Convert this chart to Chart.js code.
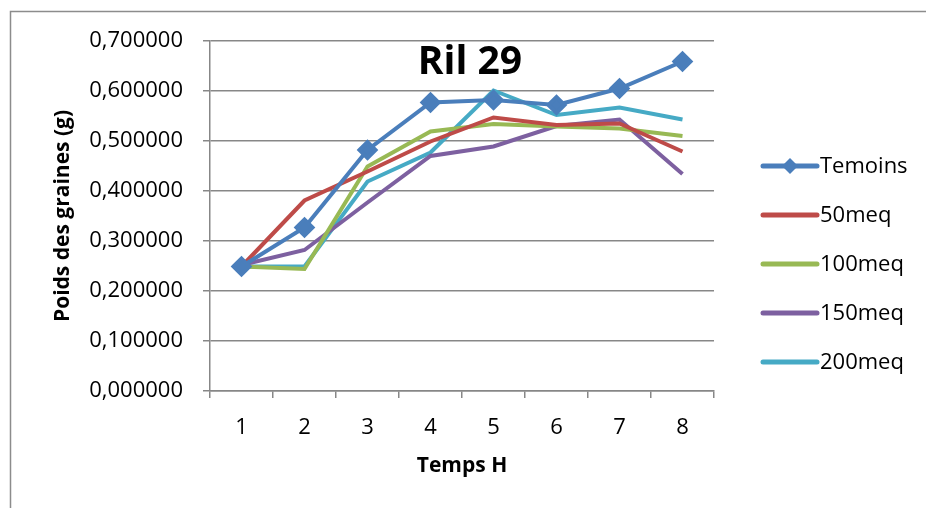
<!DOCTYPE html>
<html>
<head>
<meta charset="utf-8">
<script src="https://cdn.jsdelivr.net/npm/chart.js@4/dist/chart.umd.min.js"></script>
<style>
  html, body { margin: 0; padding: 0; background: #fff; }
  #wrap { width: 926px; height: 508px; }
</style>
</head>
<body>
<div id="wrap"><canvas id="chart" width="926" height="508"></canvas></div>
<script>
// data
const hours = ['1', '2', '3', '4', '5', '6', '7', '8'];
const temoins = [0.249, 0.327, 0.482, 0.577, 0.582, 0.572, 0.605, 0.659];
const meq50 = [0.249, 0.381, 0.439, 0.499, 0.547, 0.532, 0.535, 0.479];
const meq100 = [0.249, 0.244, 0.449, 0.519, 0.534, 0.529, 0.525, 0.510];
const meq150 = [0.252, 0.282, 0.377, 0.470, 0.489, 0.530, 0.543, 0.434];
const meq200 = [0.249, 0.249, 0.419, 0.477, 0.601, 0.552, 0.567, 0.543];
const seriesNames = ['Temoins', '50meq', '100meq', '150meq', '200meq'];
const seriesColors = ['#4A7EBB', '#BE4B48', '#98B954', '#7D60A0', '#46AAC5'];

const FONT = "'Open Sans', sans-serif";
const gridGray = '#878787';

const mkSet = (i, data) => ({
	label: seriesNames[i],
	data: data,
	borderColor: seriesColors[i],
	backgroundColor: seriesColors[i],
	borderWidth: 4,
	pointRadius: i === 0 ? 8 : 0,
	pointHoverRadius: i === 0 ? 8 : 0,
	pointStyle: 'rectRot',
	tension: 0,
	order: i === 0 ? 0 : 1,
});

// frame, title and legend are drawn by hand
const extras = {
	id: 'extras',
	beforeDraw(chart) {
		const c = chart.ctx;
		c.save();
		c.fillStyle = '#fff';
		c.fillRect(0, 0, chart.width, chart.height);
		c.strokeStyle = '#8c8c8c';
		c.lineWidth = 1.5;
		c.strokeRect(10.5, 11.5, chart.width + 20, chart.height + 20);
		c.restore();
	},
	afterDraw(chart) {
		const c = chart.ctx;
		const a = chart.chartArea;
		c.save();
		c.fillStyle = '#000';
		c.font = "bold 39px " + FONT;
		c.textAlign = 'center';
		c.textBaseline = 'middle';
		c.fillText('Ril 29', 470, 63);

		c.font = "22px " + FONT;
		c.textAlign = 'left';
		seriesNames.forEach((name, i) => {
			const y = 166 + i * 49;
			const x0 = a.right + 49;
			c.strokeStyle = seriesColors[i];
			c.lineWidth = 5;
			c.lineCap = 'round';
			c.beginPath();
			c.moveTo(x0, y);
			c.lineTo(x0 + 54, y);
			c.stroke();
			if (i === 0) {
				c.fillStyle = seriesColors[i];
				c.beginPath();
				c.moveTo(x0 + 27, y - 8);
				c.lineTo(x0 + 35, y);
				c.lineTo(x0 + 27, y + 8);
				c.lineTo(x0 + 19, y);
				c.closePath();
				c.fill();
			}
			c.fillStyle = '#000';
			c.fillText(name, x0 + 57, y + 1);
		});
		c.restore();
	}
};

new Chart(document.getElementById('chart'), {
	type: 'line',
	data: {
		labels: hours,
		datasets: [
			mkSet(0, temoins),
			mkSet(1, meq50),
			mkSet(2, meq100),
			mkSet(3, meq150),
			mkSet(4, meq200),
		],
	},
	options: {
		responsive: false,
		animation: false,
		layout: { padding: { left: 10, top: 41, right: 212, bottom: 0 } },
		plugins: {
			legend: { display: false },
			title: { display: false },
			tooltip: { enabled: false },
		},
		scales: {
			x: {
				offset: true,
				afterFit: s => { s.height = 117; },
				grid: {
					offset: true,
					drawOnChartArea: false,
					drawTicks: true,
					tickLength: 7,
					color: gridGray,
					lineWidth: 1.5,
				},
				border: { color: gridGray, width: 1.5 },
				ticks: { color: '#000', font: { family: FONT, size: 22 }, padding: 17, maxRotation: 0 },
				title: {
					display: true,
					text: 'Temps H',
					color: '#000',
					font: { family: FONT, size: 21, weight: 'bold' },
					padding: { top: 0, bottom: 29 },
				},
			},
			y: {
				min: 0,
				max: 0.7,
				afterFit: s => { s.width = 200; },
				grid: {
					color: gridGray,
					lineWidth: 1.5,
					tickLength: 7,
				},
				border: { color: gridGray, width: 1.5 },
				ticks: {
					stepSize: 0.1,
					color: '#000',
					font: { family: FONT, size: 22 },
					padding: 20,
					callback: v => v.toFixed(6).replace('.', ','),
				},
				title: {
					display: true,
					text: 'Poids des graines (g)',
					color: '#000',
					font: { family: FONT, size: 21, weight: 'bold' },
					padding: { top: 40, bottom: 0 },
				},
			},
		},
	},
	plugins: [extras],
});
</script>
</body>
</html>
